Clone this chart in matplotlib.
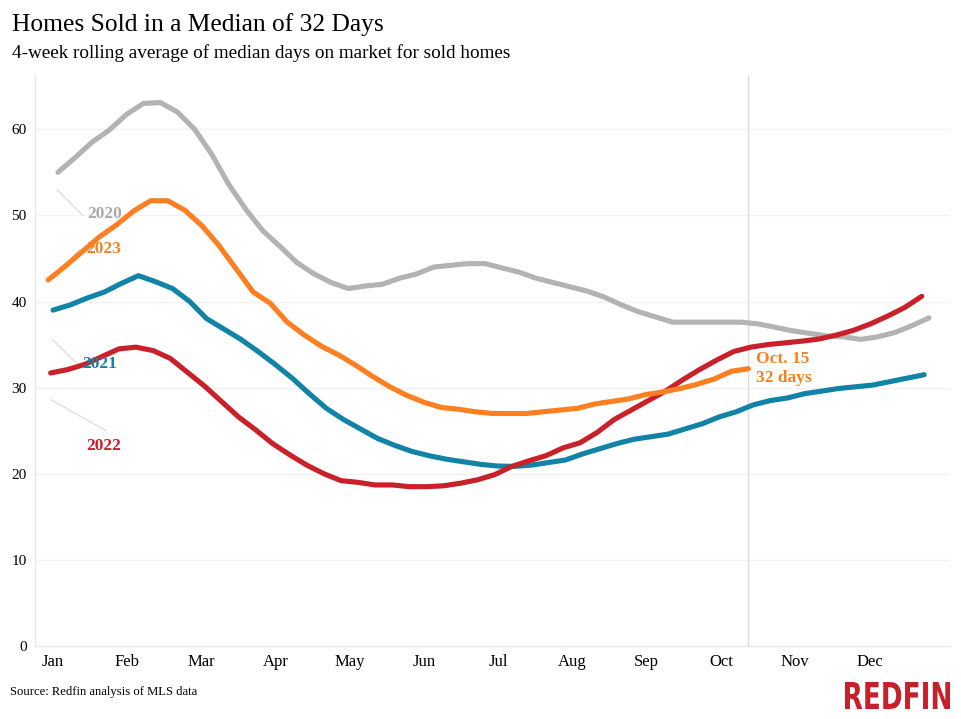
import numpy as np
import matplotlib
matplotlib.use("Agg")
import matplotlib.pyplot as plt
from matplotlib.textpath import TextPath
from matplotlib.patches import PathPatch
from matplotlib.font_manager import FontProperties
from matplotlib.transforms import Affine2D, IdentityTransform

# weekly 4-week rolling median days on market
start_day = {"2020": 2, "2021": 0, "2022": -1, "2023": -2}

days_2020 = [55.0, 56.7, 58.5, 59.9, 61.7, 63.0, 63.1, 62.0, 60.0, 57.1,
             53.6, 50.7, 48.2, 46.4, 44.5, 43.2, 42.2, 41.5, 41.8, 42.0,
             42.7, 43.2, 44.0, 44.2, 44.4, 44.4, 43.9, 43.4, 42.7, 42.2,
             41.7, 41.2, 40.5, 39.6, 38.8, 38.2, 37.6, 37.6, 37.6, 37.6,
             37.6, 37.4, 37.0, 36.6, 36.3, 36.0, 35.9, 35.6, 35.9, 36.4,
             37.2, 38.1]
days_2021 = [39.0, 39.6, 40.4, 41.1, 42.1, 43.0, 42.3, 41.5, 40.0, 38.0,
             36.8, 35.6, 34.2, 32.7, 31.1, 29.3, 27.6, 26.3, 25.2, 24.1,
             23.3, 22.6, 22.1, 21.7, 21.4, 21.1, 20.9, 20.85, 21.0, 21.3,
             21.6, 22.3, 22.9, 23.5, 24.0, 24.3, 24.6, 25.2, 25.8, 26.6,
             27.2, 28.0, 28.5, 28.8, 29.3, 29.6, 29.9, 30.1, 30.3, 30.7,
             31.1, 31.5]
days_2022 = [31.7, 32.1, 32.7, 33.6, 34.5, 34.7, 34.3, 33.4, 31.8, 30.2,
             28.4, 26.6, 25.1, 23.5, 22.2, 21.0, 20.0, 19.2, 19.0, 18.7,
             18.7, 18.5, 18.5, 18.6, 18.9, 19.3, 19.9, 20.85, 21.5, 22.1,
             23.0, 23.6, 24.8, 26.3, 27.4, 28.5, 29.6, 30.9, 32.1, 33.2,
             34.2, 34.7, 35.0, 35.2, 35.4, 35.65, 36.1, 36.65, 37.4, 38.3,
             39.3, 40.6]
days_2023 = [42.5, 44.1, 45.8, 47.5, 48.9, 50.5, 51.7, 51.7, 50.6, 48.8,
             46.5, 43.8, 41.1, 39.8, 37.6, 36.1, 34.8, 33.8, 32.6, 31.3,
             30.1, 29.1, 28.3, 27.7, 27.5, 27.2, 27.0, 27.0, 27.0, 27.2,
             27.4, 27.6, 28.1, 28.4, 28.7, 29.2, 29.5, 29.9, 30.4, 31.0,
             31.9, 32.2]

months = ["Jan", "Feb", "Mar", "Apr", "May", "Jun", "Jul", "Aug", "Sep",
          "Oct", "Nov", "Dec"]
y_ticks = [0, 10, 20, 30, 40, 50, 60]

series = {"2020": days_2020, "2021": days_2021, "2022": days_2022, "2023": days_2023}
colors = {"2020": "#b3b3b3", "2021": "#1083a6", "2022": "#c9202a", "2023": "#fd7f20"}
label_colors = {"2020": "#aaaaaa", "2021": "#1083a6", "2022": "#c9202a", "2023": "#f7811f"}
# (label position, leader line start, leader line end) in data coords
labels = {
    "2020": ((21.3, 50.2), (1.6, 53.0), (12.2, 50.0)),
    "2023": ((20.9, 46.1), (-1.2, 42.5), (11.1, 46.1)),
    "2021": ((19.3, 32.7), (-0.3, 35.6), (10.4, 32.6)),
    "2022": ((20.9, 23.2), (-0.9, 28.6), (21.7, 25.0)),
}

plt.rcParams["font.family"] = ["Liberation Serif", "DejaVu Serif"]

fig = plt.figure(figsize=(9.62, 7.19), dpi=100)
ax = fig.add_axes([35 / 962, (719 - 646) / 719, 915 / 962, (646 - 75) / 719])

for year, vals in series.items():
    x = start_day[year] + 7 * np.arange(len(vals))
    ax.plot(x, vals, color=colors[year], lw=3.7, solid_capstyle="round",
            solid_joinstyle="round", zorder=3)

for year, (txt, p0, p1) in labels.items():
    ax.plot([p0[0], p1[0]], [p0[1], p1[1]], color="#d9d9d9", lw=0.8, zorder=2)
    ax.text(txt[0], txt[1], year, color=label_colors[year], fontsize=12.5,
            fontweight="bold", ha="center", va="center", zorder=4)

# latest data point marker line + callout
last_x = start_day["2023"] + 7 * (len(days_2023) - 1)
ax.axvline(last_x, color="#dcdcdc", lw=1, zorder=1)
ax.text(last_x + 3, days_2023[-1], "Oct. 15\n32 days", color="#f7811f",
        fontsize=12.5, fontweight="bold", ha="left", va="center",
        linespacing=1.2, zorder=4)

ax.set_xlim(-7.4, 367.6)
ax.set_ylim(0, 66.3)
ax.set_xticks(np.arange(12) * 365 / 12)
ax.set_xticklabels(months, fontsize=12)
ax.set_yticks(y_ticks)
ax.set_yticklabels([str(v) for v in y_ticks], fontsize=11)
ax.tick_params(axis="both", length=0)
ax.tick_params(axis="x", pad=6)
ax.tick_params(axis="y", pad=6)
ax.grid(axis="y", color="#f2f2f2", lw=1)
ax.set_axisbelow(True)
for side in ["top", "right"]:
    ax.spines[side].set_visible(False)
for side in ["left", "bottom"]:
    ax.spines[side].set_color("#e8e8e8")
    ax.spines[side].set_linewidth(1)

fig.text(12 / 962, 1 - 25 / 719, "Homes Sold in a Median of 32 Days",
         fontsize=18.4, va="center", ha="left")
fig.text(12 / 962, 1 - 53 / 719,
         "4-week rolling average of median days on market for sold homes",
         fontsize=13.8, va="center", ha="left")
fig.text(10 / 962, 1 - 692 / 719, "Source: Redfin analysis of MLS data",
         fontsize=9.1, va="center", ha="left")

# logo: bold sans squeezed into a condensed box (pixel coords)
logo = TextPath((0, 0), "REDFIN", size=1,
                prop=FontProperties(family="DejaVu Sans", weight="bold"))
bb = logo.get_extents()
sx = 105 / bb.width
sy = 27 / bb.height
tr = Affine2D().translate(-bb.x0, -bb.y0).scale(sx, sy).translate(845, 719 - 709)
fig.patches.append(PathPatch(tr.transform_path(logo), facecolor="#c8202a",
                             edgecolor="none", transform=IdentityTransform(),
                             figure=fig))

fig.savefig("out.png", dpi=100, facecolor="white")
